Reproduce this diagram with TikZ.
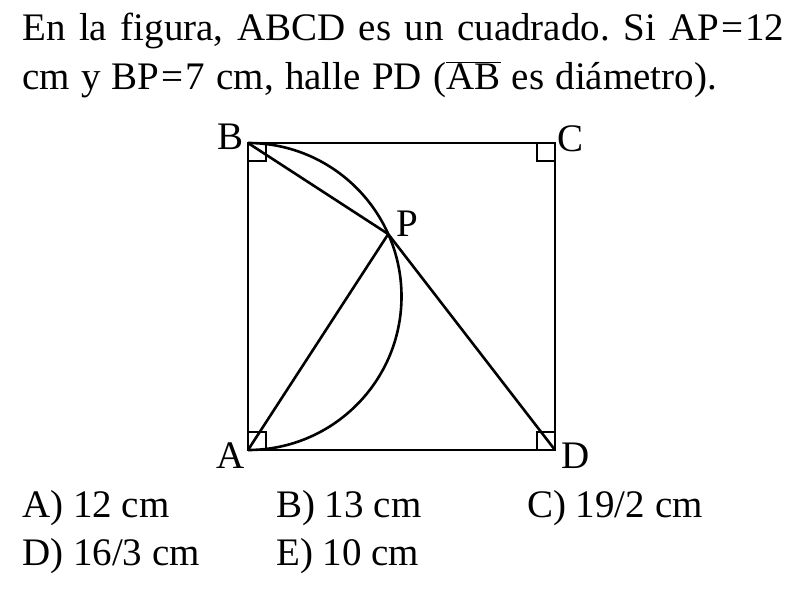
\documentclass[tikz,border=0pt]{standalone}
\usepackage{fontspec}
\setmainfont{Liberation Serif}
\frenchspacing
\begin{document}
\begin{tikzpicture}[x=1pt,y=-1pt,
  txt/.style={anchor=base west,inner sep=0pt,font=\fontsize{39}{46}\selectfont},
  lbl/.style={inner sep=0pt,font=\fontsize{39}{44}\selectfont},
  edgeline/.style={line width=2.6pt,line join=miter},
  ramark/.style={line width=2.2pt}]
\useasboundingbox (0,0) rectangle (804,597);
% title
\node[txt] (t1) at (22,40) {\spaceskip=13.5pt En la figura, ABCD es un cuadrado. Si AP\kern2pt=\kern2pt12};
\node[txt] (t2) at (22,89) {\spaceskip=11.3pt cm y BP\kern2pt=\kern2pt7 cm, halle PD ($\overline{\mbox{AB}}$ es diámetro).};
% points
\coordinate (B) at (248,143);
\coordinate (C) at (555,143);
\coordinate (D) at (555,450);
\coordinate (A) at (248,450);
\coordinate (O) at (248,296.5);
\coordinate (P) at ([shift={(O)}]-24:153.5);
% right-angle marks
\draw[ramark] (B) rectangle ++(18,18);
\draw[ramark] (C) rectangle ++(-18,18);
\draw[ramark] (A) rectangle ++(18,-18);
\draw[ramark] (D) rectangle ++(-18,-18);
% square
\draw[edgeline] (B) -- (C) -- (D) -- (A) -- cycle;
% semicircle
\draw[edgeline] (B) arc[start angle=-90,end angle=90,radius=153.5];
% segments
\draw[edgeline] (B) -- (P);
\draw[edgeline] (A) -- (P);
\draw[edgeline] (P) -- (D);
% labels
\node[lbl] (lB) at (231,137) {B};
\node[lbl] (lC) at (571,139) {C};
\node[lbl] (lA) at (231,456) {A};
\node[lbl] (lD) at (576,456) {D};
\node[lbl] (lP) at (407,224) {P};
% answers
\node[txt] (a1) at (22,517) {A) 12 cm};
\node[txt] (a2) at (276,517) {B) 13 cm};
\node[txt] (a3) at (527,517) {C) 19/2 cm};
\node[txt] (a4) at (22,565) {D) 16/3 cm};
\node[txt] (a5) at (276,565) {E) 10 cm};
\end{tikzpicture}
\end{document}
